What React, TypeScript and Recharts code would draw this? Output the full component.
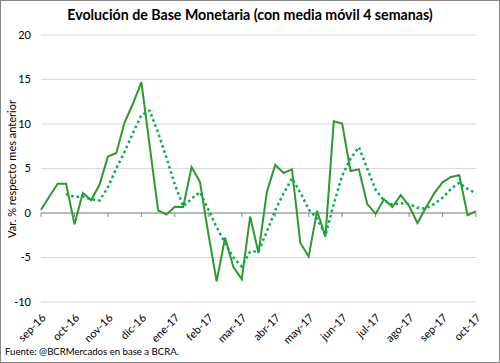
import React from "react";
import { LineChart, Line, XAxis, YAxis, CartesianGrid, ReferenceLine } from "recharts";

// Semanas: índice 0..52, una etiqueta de mes cada 4 semanas
const MESES = [
  "sep-16", "oct-16", "nov-16", "dic-16", "ene-17", "feb-17", "mar-17",
  "abr-17", "may-17", "jun-17", "jul-17", "ago-17", "sep-17", "oct-17",
];

// Var. % semanal de la base monetaria respecto del mes anterior
const VAR_SEMANAL = [
  0.37, 1.85, 3.3, 3.3, -1.27, 2.25, 1.45, 3.2, 6.35, 6.74,
  10.2, 12.3, 14.7, 7.5, 0.3, -0.17, 0.7, 0.67, 5.17, 3.5,
  -2.3, -7.68, -2.77, -6.07, -7.45, -0.4, -4.5, 2.35, 5.4, 4.5,
  4.9, -3.37, -4.9, 0.25, -2.65, 10.3, 10.04, 4.72, 4.9, 1.0,
  -0.1, 1.54, 0.67, 2.0, 0.8, -1.12, 0.6, 2.2, 3.45, 4.05,
  4.25, -0.26, 0.22,
];

// Media móvil 4 semanas
const MEDIA_MOVIL: (number | null)[] = [
  null, null, null, 2.15, 1.8, 1.85, 1.55, 1.4, 2.9, 5.0,
  6.9, 9.0, 11.0, 11.5, 9.0, 6.2, 3.2, 0.75, 1.6, 2.35,
  0.4, -1.6, -3.4, -5.0, -6.0, -4.35, -4.3, -2.1, 0.3, 2.2,
  3.9, 2.3, 0.4, -0.6, -2.5, 1.0, 4.2, 6.1, 7.4, 5.0,
  2.6, 1.4, 0.95, 1.1, 1.0, 0.6, 0.5, 1.0, 1.7, 2.7,
  3.4, 2.7, 2.2,
];

const Y_TICKS = [-10, -5, 0, 5, 10, 15, 20];

const data = VAR_SEMANAL.map((v, i) => ({ semana: i, variacion: v, media: MEDIA_MOVIL[i] }));
const monthTicks = MESES.map((_, i) => i * 4);

const FONT = "Lato, 'Open Sans', sans-serif";

export default function App() {
  return (
    <div
      style={{
        position: "absolute", left: 0, top: 0, width: 500, height: 363,
        boxSizing: "border-box", border: "1px solid #868686", background: "#fff",
        fontFamily: FONT, overflow: "hidden",
      }}
    >
      <div style={{ position: "absolute", top: 5, left: 0, width: 498, textAlign: "center", fontWeight: 700, fontSize: 14.2, color: "#000" }}>
        Evolución de Base Monetaria (con media móvil 4 semanas)
      </div>
      <div
        style={{
          position: "absolute", left: 10, top: 168, transform: "translate(-50%, -50%) rotate(-90deg)",
          whiteSpace: "nowrap", fontSize: 11, color: "#000",
        }}
      >
        Var. % respecto mes anterior
      </div>
      <div style={{ position: "absolute", left: 4, top: 345, fontSize: 9.6, color: "#000" }}>
        Fuente: @BCRMercados en base a BCRA.
      </div>
      <div style={{ position: "absolute", left: -1, top: -1 }}>
        <LineChart width={500} height={346} data={data} margin={{ top: 35, right: 24, left: 0, bottom: 0 }}>
          <CartesianGrid vertical={false} stroke="#d9d9d9" />
          <XAxis
            dataKey="semana" type="number" domain={[0, 52]} ticks={monthTicks}
            tickFormatter={(i: number) => MESES[i / 4]}
            interval={0} axisLine={false} tickLine={false} height={44} tickMargin={5}
            angle={-45} textAnchor="end" tick={{ fontSize: 11, fill: "#000", fontFamily: FONT }}
          />
          <YAxis
            domain={[-10, 20]} ticks={Y_TICKS} width={41} axisLine={false} tickLine={false}
            tick={{ fontSize: 11, fill: "#000", fontFamily: FONT }} tickMargin={4}
          />
          <ReferenceLine y={0} stroke="#868686" strokeWidth={1} />
          {monthTicks.map((t) => (
            <ReferenceLine key={t} segment={[{ x: t, y: 0 }, { x: t, y: -0.45 }]} stroke="#868686" />
          ))}
          <Line
            type="linear" dataKey="variacion" stroke="#2c9a2c" strokeWidth={2}
            dot={false} isAnimationActive={false}
          />
          <Line
            type="linear" dataKey="media" stroke="#00b050" strokeWidth={2.5}
            strokeDasharray="2.5 3" dot={false} connectNulls={false} isAnimationActive={false}
          />
        </LineChart>
      </div>
    </div>
  );
}
